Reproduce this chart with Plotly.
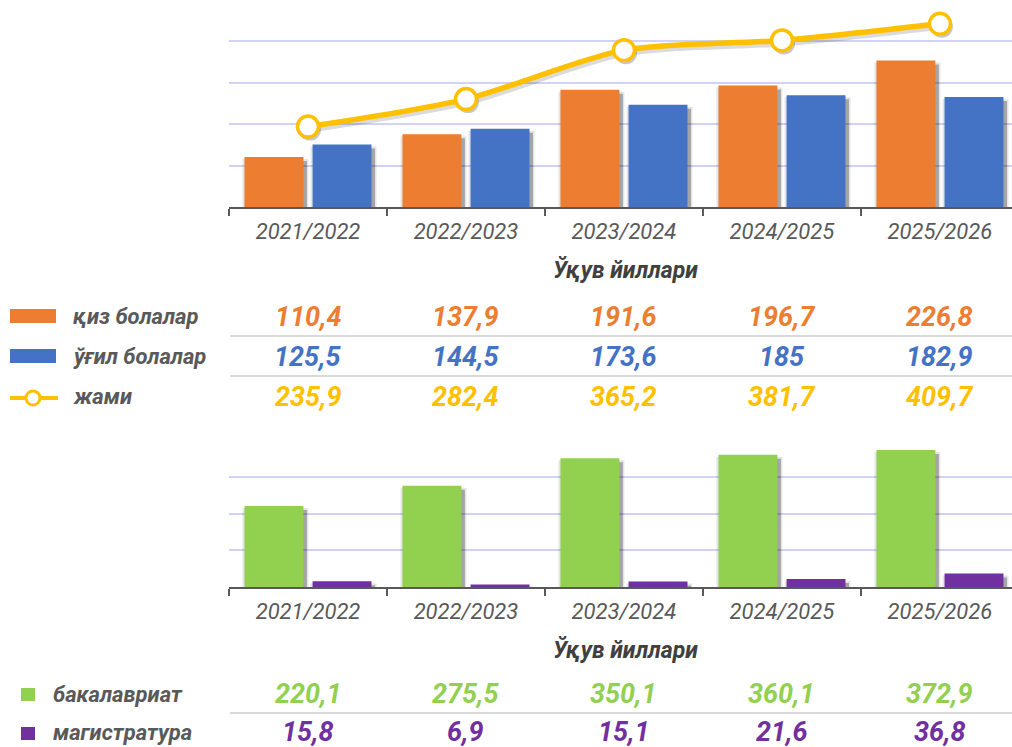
import plotly.graph_objects as go

years = ["2021/2022", "2022/2023", "2023/2024", "2024/2025", "2025/2026"]
girls = [110.4, 137.9, 191.6, 196.7, 226.8]
boys = [125.5, 144.5, 173.6, 185, 182.9]
total = [235.9, 282.4, 365.2, 381.7, 409.7]
bachelor = [220.1, 275.5, 350.1, 360.1, 372.9]
master = [15.8, 6.9, 15.1, 21.6, 36.8]

axis_title = "Ўқув йиллари"
lbl_girls = "қиз болалар"
lbl_boys = "ўғил болалар"
lbl_total = "жами"
lbl_bach = "бакалавриат"
lbl_mast = "магистратура"

ORANGE = "#ED7D31"
BLUE = "#4472C4"
GOLD = "#FFC000"
GREEN = "#92D050"
PURPLE = "#7030A0"
GRAY = "#595959"
GRID = "#d0d2f7"
FONT = "Roboto"

W, H = 1012, 747
CAT_PX = 158.0          # pixel width of one category
TOP_PPU = 207 / 250.0   # pixels per unit, top bars
BOT_PPU = 147 / 400.0   # pixels per unit, bottom bars
LINE_PPU = 207 / 350.0  # pixels per unit, total line


def px(x):
    return x / W


def py(y):
    return 1 - y / H


def fmt(v):
    return str(v).replace(".", ",")


BW = 0.373
OFF_L = -0.402
OFF_R = 0.029

fig = go.Figure()


def add_bar_with_shadow(vals, color, offset, xa, ya, ppu):
    # soft drop shadow (two layers) drawn beneath the bar
    for grow, dx, drop, alpha in ((7, 1.5, 2, 0.10), (3, 2.0, 4, 0.28)):
        fig.add_trace(go.Bar(x=years, y=[v - drop / ppu for v in vals], width=BW + grow / CAT_PX,
                             offset=offset - (grow / 2 - dx) / CAT_PX,
                             marker=dict(color=f"rgba(0,0,0,{alpha})", line=dict(width=0)),
                             xaxis=xa, yaxis=ya, hoverinfo="skip"))
    fig.add_trace(go.Bar(x=years, y=vals, width=BW, offset=offset,
                         marker=dict(color=color, line=dict(width=0)), xaxis=xa, yaxis=ya))


add_bar_with_shadow(girls, ORANGE, OFF_L, "x", "y", TOP_PPU)
add_bar_with_shadow(boys, BLUE, OFF_R, "x", "y", TOP_PPU)

# total line (and its shadow) on a hidden numeric overlay axis aligned with the categories
idx = list(range(len(years)))
fig.add_trace(go.Scatter(x=[i + 2 / CAT_PX for i in idx], y=[v - 3 / LINE_PPU for v in total],
                         mode="lines+markers", xaxis="x3", yaxis="y2", hoverinfo="skip",
                         line=dict(color="rgba(0,0,0,0.14)", width=6, shape="spline", smoothing=0.8),
                         marker=dict(size=22, color="rgba(0,0,0,0.22)", line=dict(width=0)),
                         cliponaxis=False))
fig.add_trace(go.Scatter(x=idx, y=total, text=years, mode="lines+markers", xaxis="x3", yaxis="y2",
                         line=dict(color=GOLD, width=5.5, shape="spline", smoothing=0.8),
                         marker=dict(size=21, color="white", line=dict(color=GOLD, width=3.5)),
                         cliponaxis=False))

add_bar_with_shadow(bachelor, GREEN, OFF_L, "x2", "y3", BOT_PPU)
add_bar_with_shadow(master, PURPLE, OFF_R, "x2", "y3", BOT_PPU)

xcommon = dict(type="category", range=[-0.5, 4.456], tickson="boundaries", ticks="outside", ticklen=7,
               tickcolor=GRAY, tickwidth=1.5, showline=True, linecolor=GRAY, linewidth=2, showgrid=False,
               tickfont=dict(family=FONT, size=22, color=GRAY, style="italic"), ticklabelstandoff=4,
               domain=[px(229), 1])

fig.update_layout(
    width=W, height=H, margin=dict(l=0, r=0, t=0, b=0),
    paper_bgcolor="white", plot_bgcolor="white", showlegend=False, barmode="overlay",
    xaxis=dict(anchor="y", **xcommon),
    xaxis3=dict(overlaying="x", type="linear", range=[-0.5, 4.456], visible=False, anchor="y2"),
    yaxis=dict(domain=[py(207), 1], range=[50, 300], dtick=50, showgrid=True, gridcolor=GRID, gridwidth=1.5,
               showticklabels=False, zeroline=False, showline=False, ticks=""),
    yaxis2=dict(overlaying="y", range=[100, 450], visible=False, showgrid=False),
    xaxis2=dict(anchor="y3", **xcommon),
    yaxis3=dict(domain=[py(587), py(440)], range=[0, 400], dtick=100, showgrid=True, gridcolor=GRID,
                gridwidth=1.5, showticklabels=False, zeroline=False, showline=False, ticks=""),
)

ann = []
for yy in (270, 650):
    ann.append(dict(text=axis_title, x=px(625), y=py(yy), xref="paper", yref="paper", showarrow=False,
                    xanchor="center", yanchor="middle",
                    font=dict(family=FONT, size=23, color="#404040", weight="bold", style="italic")))

rows_top = [(girls, ORANGE, 317, lbl_girls), (boys, BLUE, 357, lbl_boys), (total, GOLD, 397, lbl_total)]
for vals, col, yy, lab in rows_top:
    for yr, v in zip(years, vals):
        ann.append(dict(text=fmt(v), x=yr, xref="x", y=py(yy), yref="paper", showarrow=False,
                        xanchor="center", yanchor="middle",
                        font=dict(family=FONT, size=27, color=col, weight="bold", style="italic")))
    ann.append(dict(text=lab, x=px(71), y=py(yy), xref="paper", yref="paper", xanchor="left",
                    yanchor="middle", showarrow=False,
                    font=dict(family=FONT, size=22, color=GRAY, weight="bold", style="italic")))

rows_bot = [(bachelor, GREEN, 694, lbl_bach), (master, PURPLE, 732, lbl_mast)]
for vals, col, yy, lab in rows_bot:
    for yr, v in zip(years, vals):
        ann.append(dict(text=fmt(v), x=yr, xref="x2", y=py(yy), yref="paper", showarrow=False,
                        xanchor="center", yanchor="middle",
                        font=dict(family=FONT, size=27, color=col, weight="bold", style="italic")))
    ann.append(dict(text=lab, x=px(51), y=py(yy), xref="paper", yref="paper", xanchor="left",
                    yanchor="middle", showarrow=False,
                    font=dict(family=FONT, size=22, color=GRAY, weight="bold", style="italic")))

fig.update_layout(annotations=ann)

shapes = []
for yy in (336, 376, 713):
    shapes.append(dict(type="line", xref="paper", yref="paper", x0=px(230), x1=1, y0=py(yy), y1=py(yy),
                       line=dict(color="#cccccc", width=1.5)))
shapes.append(dict(type="rect", xref="paper", yref="paper", x0=px(10), x1=px(56), y0=py(323), y1=py(309),
                   fillcolor=ORANGE, line=dict(width=0)))
shapes.append(dict(type="rect", xref="paper", yref="paper", x0=px(10), x1=px(56), y0=py(363), y1=py(349),
                   fillcolor=BLUE, line=dict(width=0)))
shapes.append(dict(type="line", xref="paper", yref="paper", x0=px(10), x1=px(58), y0=py(398), y1=py(398),
                   line=dict(color=GOLD, width=4)))
shapes.append(dict(type="circle", xref="paper", yref="paper", x0=px(26), x1=px(40), y0=py(405), y1=py(391),
                   fillcolor="white", line=dict(color=GOLD, width=3)))
shapes.append(dict(type="rect", xref="paper", yref="paper", x0=px(21), x1=px(35), y0=py(701), y1=py(688),
                   fillcolor=GREEN, line=dict(width=0)))
shapes.append(dict(type="rect", xref="paper", yref="paper", x0=px(21), x1=px(35), y0=py(740), y1=py(727),
                   fillcolor=PURPLE, line=dict(width=0)))
fig.update_layout(shapes=shapes)

fig.write_html("out.html", config={"displayModeBar": False},
               post_script="document.body.style.margin='0';")
